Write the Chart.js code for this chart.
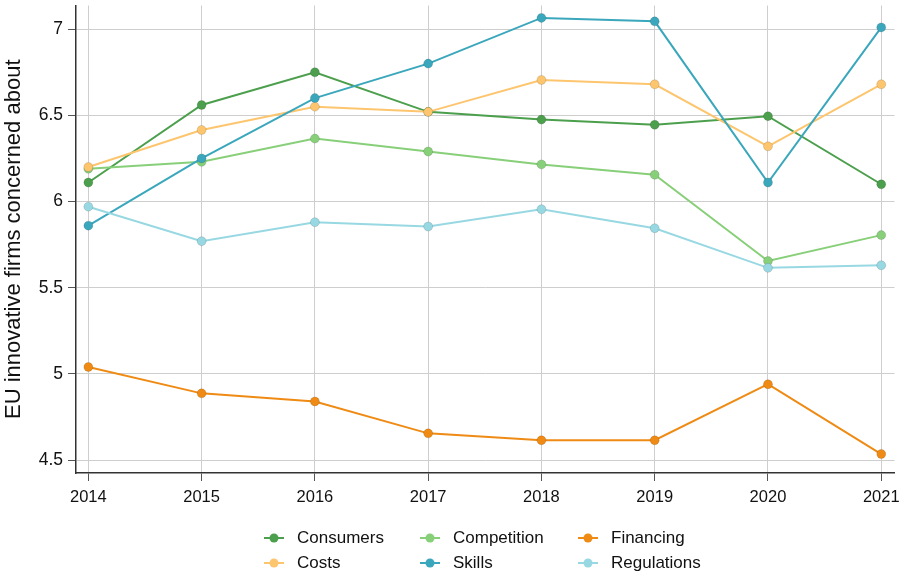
<!DOCTYPE html>
<html>
<head>
<meta charset="utf-8">
<script src="https://cdn.jsdelivr.net/npm/chart.js@4.4.1/dist/chart.umd.min.js"></script>
<style>
  html, body { margin: 0; padding: 0; background: #fff; }
  #wrap { width: 900px; height: 574px; position: relative; }
</style>
</head>
<body>
<div id="wrap"><canvas id="chart"></canvas></div>
<script>
// Datos
const years = [2014, 2015, 2016, 2017, 2018, 2019, 2020, 2021];
const yTicks = [4.5, 5, 5.5, 6, 6.5, 7];

const consumers   = [6.11, 6.56, 6.75, 6.52, 6.475, 6.445, 6.495, 6.10];
const competition = [6.19, 6.23, 6.365, 6.29, 6.215, 6.155, 5.655, 5.805];
const financing   = [5.04, 4.887, 4.84, 4.655, 4.615, 4.615, 4.94, 4.535];
const costs       = [6.20, 6.415, 6.55, 6.52, 6.705, 6.68, 6.32, 6.68];
const skills      = [5.86, 6.25, 6.60, 6.80, 7.065, 7.045, 6.11, 7.01];
const regulations = [5.97, 5.77, 5.88, 5.855, 5.955, 5.845, 5.615, 5.63];

const seriesNames  = ['Consumers', 'Competition', 'Financing', 'Costs', 'Skills', 'Regulations'];
const seriesValues = [consumers, competition, financing, costs, skills, regulations];
const seriesColors = ['#4c9f4c', '#88cf79', '#ef8b14', '#fdc56e', '#3ba7bc', '#98d8e2'];

const FONT = "'Liberation Sans', Arial, sans-serif";

// Leyenda en 3 columnas, dibujada a mano
const legendPlugin = {
    id: 'gridLegend',
    afterDraw(chart) {
        const ctx = chart.ctx;
        const colX = [264, 420, 578];
        const rowY = [538, 563];
        ctx.save();
        ctx.font = '17px ' + FONT;
        ctx.textBaseline = 'middle';
        chart.data.datasets.forEach((ds, i) => {
            const x = colX[i % 3];
            const y = rowY[Math.floor(i / 3)];
            ctx.strokeStyle = ds.borderColor;
            ctx.lineWidth = 2;
            ctx.beginPath();
            ctx.moveTo(x, y);
            ctx.lineTo(x + 20, y);
            ctx.stroke();
            ctx.fillStyle = ds.backgroundColor;
            ctx.beginPath();
            ctx.arc(x + 10, y, 4.5, 0, Math.PI * 2);
            ctx.fill();
            ctx.fillStyle = '#111';
            ctx.fillText(ds.label, x + 33, y);
        });
        ctx.restore();
    }
};

const datasets = seriesNames.map((name, i) => ({
    label: name,
    data: years.map((yr, j) => ({ x: yr, y: seriesValues[i][j] })),
    borderColor: seriesColors[i],
    backgroundColor: seriesColors[i],
    pointBackgroundColor: seriesColors[i],
    pointBorderColor: 'rgba(0,0,0,0.12)',
    pointBorderWidth: 1,
    pointRadius: 4.5,
    borderWidth: 2,
    tension: 0,
    order: seriesNames.length - i
}));

new Chart(document.getElementById('chart'), {
    type: 'line',
    data: { datasets },
    options: {
        responsive: true,
        maintainAspectRatio: false,
        animation: false,
        layout: { padding: { top: 3, right: 5, left: 0, bottom: 71 } },
        plugins: {
            legend: { display: false },
            tooltip: { enabled: false }
        },
        scales: {
            x: {
                type: 'linear',
                min: 2013.891,
                max: 2021.117,
                afterBuildTicks: (s) => { s.ticks = years.map(v => ({ value: v })); },
                afterFit: (s) => { s.height = 30; s.paddingLeft = 0; s.paddingRight = 0; },
                grid: { color: '#cecece', lineWidth: 1, tickLength: 8, tickColor: '#555' },
                border: { color: '#333', width: 1.5 },
                ticks: {
                    padding: 7,
                    color: '#111',
                    font: { family: FONT, size: 16.5 },
                    callback: (v) => String(v)
                }
            },
            y: {
                min: 4.425,
                max: 7.137,
                afterBuildTicks: (s) => { s.ticks = yTicks.map(v => ({ value: v })); },
                afterFit: (s) => { s.width = 76; s.paddingTop = 0; s.paddingBottom = 0; },
                grid: { color: '#cecece', lineWidth: 1, tickLength: 8, tickColor: '#555' },
                border: { color: '#333', width: 1.5 },
                ticks: {
                    padding: 5,
                    color: '#111',
                    font: { family: FONT, size: 17.5 },
                    callback: (v) => String(v)
                },
                title: {
                    display: true,
                    text: 'EU innovative firms concerned about',
                    color: '#111',
                    padding: { top: 1, bottom: 0 },
                    font: { family: FONT, size: 22 }
                }
            }
        }
    },
    plugins: [legendPlugin]
});
</script>
</body>
</html>
